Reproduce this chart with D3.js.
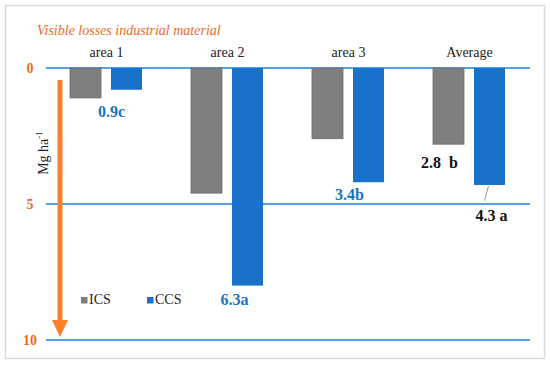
<!DOCTYPE html>
<html>
<head>
<meta charset="utf-8">
<script src="https://cdn.jsdelivr.net/npm/d3@7"></script>
<style>
  body { margin: 0; background: #fff; }
</style>
</head>
<body>
<div id="chart"></div>
<script>
// values (bars go downward, Mg ha-1)
var categories = ["area 1", "area 2", "area 3", "Average"];
var series = ["ICS", "CCS"];
var icsValues = [1.1, 4.6, 2.6, 2.8];
var ccsValues = [0.8, 8.0, 4.2, 4.3];
var yTicks = [0, 5, 10];
// value labels as printed on the chart
var labelText = ["0.9c", "6.3a", "3.4b", "2.8  b", "4.3 a"];
var labelCat = ["area 1", "area 2", "area 3", "Average", "Average"];
var labelSeries = ["CCS", "CCS", "CCS", "ICS", "CCS"];

var colors = {ICS: "#7f7f7f", CCS: "#1872c9"};
var orange = "#ee6a22";
var serif = "'Liberation Serif'";

var W = 550, H = 365;
var svg = d3.select("#chart").append("svg")
    .attr("width", W)
    .attr("height", H);

// outer frame
svg.append("rect")
    .attr("x", 5.5).attr("y", 5.5)
    .attr("width", 539).attr("height", 353)
    .attr("fill", "#fff")
    .attr("stroke", "#d9d9d9")
    .attr("stroke-width", 1.5);

var x0 = d3.scaleBand()
    .domain(categories)
    .range([46, 530]);

var x1 = d3.scaleBand()
    .domain(series)
    .range([24, 96])
    .paddingInner(0.244);

var y = d3.scaleLinear()
    .domain([0, 10])
    .range([68, 340]);

var valuesBy = {ICS: icsValues, CCS: ccsValues};

// gridlines
svg.selectAll(".grid")
    .data(yTicks)
    .enter()
    .append("line")
    .attr("x1", 46).attr("x2", 530)
    .attr("y1", function (d) { return y(d); })
    .attr("y2", function (d) { return y(d); })
    .attr("stroke", "#1a7fd9")
    .attr("stroke-width", 1.5);

// tick labels
svg.selectAll(".tick")
    .data(yTicks)
    .enter()
    .append("text")
    .attr("x", 30)
    .attr("y", function (d) { return y(d) + 5; })
    .attr("text-anchor", "middle")
    .attr("font-weight", "bold")
    .attr("font-size", 14)
    .attr("fill", orange)
    .style("font-family", serif)
    .text(function (d) { return d; });

// bars
var groups = svg.selectAll(".cat")
    .data(categories)
    .enter()
    .append("g")
    .attr("transform", function (d) { return "translate(" + x0(d) + ",0)"; });

groups.selectAll("rect")
    .data(function (d, i) {
        return series.map(function (s) { return {s: s, v: valuesBy[s][i]}; });
    })
    .enter()
    .append("rect")
    .attr("x", function (d) { return x1(d.s); })
    .attr("width", x1.bandwidth())
    .attr("y", y(0))
    .attr("height", function (d) { return y(d.v) - y(0); })
    .attr("fill", function (d) { return colors[d.s]; })
    .attr("stroke", function (d) { return d.s === "ICS" ? "#6b6b6b" : "none"; })
    .attr("stroke-width", 0.8);

// category labels on top
svg.selectAll(".catlabel")
    .data(categories)
    .enter()
    .append("text")
    .attr("x", function (d) { return x0(d) + x0.bandwidth() / 2; })
    .attr("y", 57)
    .attr("text-anchor", "middle")
    .attr("font-size", 14)
    .attr("fill", "#222")
    .style("font-family", serif)
    .text(function (d) { return d; });

// title
svg.append("text")
    .attr("x", 37).attr("y", 35)
    .attr("font-size", 14)
    .attr("font-style", "italic")
    .attr("fill", orange)
    .style("font-family", serif)
    .text("Visible losses industrial material");

// y axis title
svg.append("text")
    .attr("transform", "translate(48,153) rotate(-90)")
    .attr("text-anchor", "middle")
    .attr("font-size", 14)
    .attr("fill", "#222")
    .style("font-family", serif)
    .html('Mg ha<tspan dy="-6" font-size="9">-1</tspan>');

// orange arrow
svg.append("line")
    .attr("x1", 60).attr("x2", 60)
    .attr("y1", 80).attr("y2", 322)
    .attr("stroke", "#fd7f2c")
    .attr("stroke-width", 5);
svg.append("path")
    .attr("d", "M52,320 L68,320 L60,337 Z")
    .attr("fill", "#fd7f2c");

// value labels, placed relative to the bar end
var offsets = [[-15, 27], [-13, 19], [-19, 18], [-9, 24], [2, 36]];
labelText.forEach(function (t, i) {
    var ci = categories.indexOf(labelCat[i]);
    var s = labelSeries[i];
    var cx = x0(labelCat[i]) + x1(s) + x1.bandwidth() / 2;
    var ey = y(valuesBy[s][ci]);
    var isAvg = labelCat[i] === "Average";
    svg.append("text")
        .attr("x", cx + offsets[i][0])
        .attr("y", ey + offsets[i][1])
        .attr("text-anchor", "middle")
        .attr("font-weight", "bold")
        .attr("font-size", 16)
        .attr("fill", isAvg ? "#111" : colors.CCS)
        .style("font-family", serif)
        .style("white-space", "pre")
        .text(t);
    if (i === 4) {
        svg.append("line")
            .attr("x1", cx - 1).attr("y1", ey + 1)
            .attr("x2", cx - 5).attr("y2", ey + 16)
            .attr("stroke", "#999")
            .attr("stroke-width", 1);
    }
});

// legend
var legend = svg.selectAll(".leg")
    .data(series)
    .enter()
    .append("g")
    .attr("transform", function (d, i) { return "translate(" + (81 + i * 66) + ",297)"; });
legend.append("rect")
    .attr("width", 6.5).attr("height", 6.5)
    .attr("fill", function (d) { return colors[d]; });
legend.append("text")
    .attr("x", 8).attr("y", 7)
    .attr("font-size", 14)
    .attr("fill", "#222")
    .style("font-family", serif)
    .text(function (d) { return d; });
</script>
</body>
</html>
